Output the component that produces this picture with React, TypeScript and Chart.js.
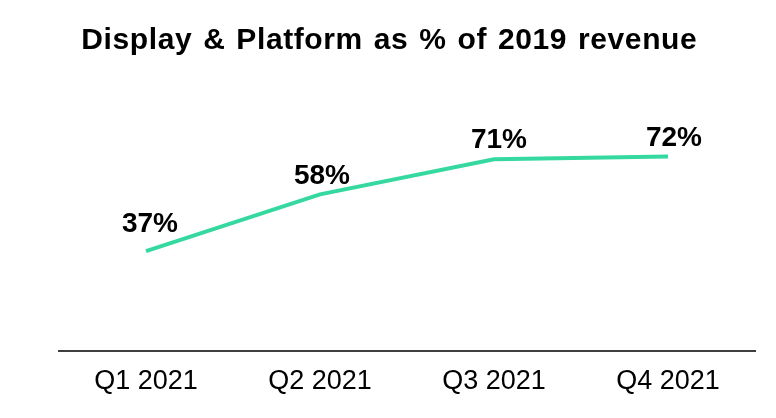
import React, { useEffect, useRef } from "react";
import { Chart, registerables } from "chart.js";

Chart.register(...registerables);

const TITLE = "Display & Platform as % of 2019 revenue";
const categories = ["Q1 2021", "Q2 2021", "Q3 2021", "Q4 2021"];
const revenuePct = [37, 58, 71, 72];
const pointLabels = ["37%", "58%", "71%", "72%"];

const FONT = "'Liberation Sans', Arial, Helvetica, sans-serif";
const LINE_COLOR = "#35D9A0";

const titlePlugin = {
  id: "customTitle",
  afterDraw(chart: any) {
    const ctx = chart.ctx as CanvasRenderingContext2D;
    ctx.save();
    ctx.font = `bold 30px ${FONT}`;
    (ctx as any).letterSpacing = "0.6px";
    (ctx as any).wordSpacing = "2px";
    ctx.fillStyle = "#000000";
    ctx.textAlign = "left";
    ctx.textBaseline = "alphabetic";
    const w = ctx.measureText(TITLE).width - 0.6;
    ctx.fillText(TITLE, 389 - w / 2, 49);
    ctx.restore();
  },
};

const valueLabelPlugin = {
  id: "valueLabels",
  afterDatasetsDraw(chart: any, _args: any, opts: any) {
    const ctx = chart.ctx as CanvasRenderingContext2D;
    const meta = chart.getDatasetMeta(0);
    const dx: number[] = opts.dx || [];
    const dy: number[] = opts.dy || [];
    ctx.save();
    ctx.font = `bold 28px ${FONT}`;
    ctx.fillStyle = "#000000";
    ctx.textAlign = "center";
    ctx.textBaseline = "alphabetic";
    meta.data.forEach((pt: any, i: number) => {
      ctx.fillText(pointLabels[i], pt.x + (dx[i] ?? 0), pt.y - (dy[i] ?? 10));
    });
    ctx.restore();
  },
};

export default function App() {
  const canvasRef = useRef<HTMLCanvasElement | null>(null);

  useEffect(() => {
    document.body.style.margin = "0";
    const canvas = canvasRef.current;
    if (!canvas) return;
    const chart = new Chart(canvas, {
      type: "line",
      data: {
        labels: categories,
        datasets: [
          {
            data: revenuePct,
            borderColor: LINE_COLOR,
            backgroundColor: LINE_COLOR,
            borderWidth: 4,
            pointRadius: 0,
            pointHoverRadius: 0,
            tension: 0,
            fill: false,
          },
        ],
      },
      options: {
        animation: false,
        responsive: true,
        maintainAspectRatio: false,
        layout: {
          padding: { top: 81, left: 59, right: 21, bottom: 6.6 },
        },
        plugins: {
          legend: { display: false },
          title: { display: false },
          tooltip: { enabled: false },
          valueLabels: { dx: [4, 2, 5, 6], dy: [19, 10, 11, 11] },
        } as any,
        scales: {
          x: {
            offset: true,
            grid: { display: false, drawTicks: false },
            border: { display: true, color: "#3f3f3f", width: 2 },
            ticks: {
              color: "#000000",
              font: { family: FONT, size: 27 },
              padding: 14,
              maxRotation: 0,
              autoSkip: false,
            },
          },
          y: {
            display: false,
            min: 0,
            max: 100,
          },
        },
      },
      plugins: [titlePlugin, valueLabelPlugin],
    });
    return () => chart.destroy();
  }, []);

  return (
    <div style={{ position: "relative", width: 776, height: 418, background: "#ffffff" }}>
      <canvas ref={canvasRef} />
    </div>
  );
}
